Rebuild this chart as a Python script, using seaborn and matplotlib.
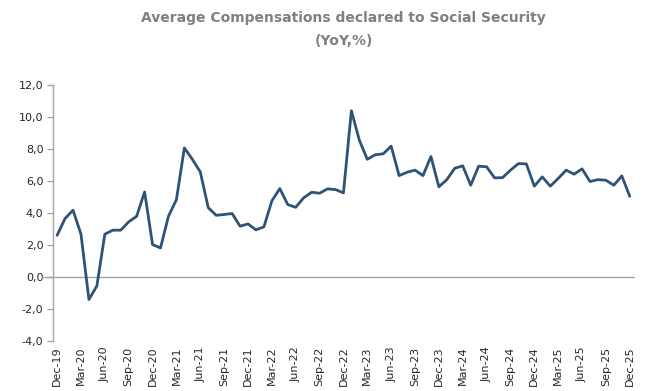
import matplotlib
matplotlib.use("Agg")
import matplotlib.pyplot as plt
import seaborn as sns
import pandas as pd
import numpy as np

months = ["Dec", "Jan", "Feb", "Mar", "Apr", "May", "Jun", "Jul", "Aug", "Sep", "Oct", "Nov"]
start_year = 19
n_points = 73

values = [2.60, 3.65, 4.17, 2.67, -1.41, -0.56, 2.67, 2.92, 2.92, 3.44, 3.79, 5.31,
          2.02, 1.81, 3.79, 4.83, 8.06, 7.35, 6.56, 4.33, 3.85, 3.90, 3.96, 3.17,
          3.31, 2.94, 3.13, 4.75, 5.52, 4.52, 4.35, 4.94, 5.29, 5.23, 5.50, 5.46,
          5.25, 10.38, 8.54, 7.35, 7.63, 7.69, 8.17, 6.33, 6.54, 6.67, 6.33, 7.52,
          5.63, 6.08, 6.79, 6.94, 5.73, 6.92, 6.88, 6.19, 6.20, 6.67, 7.08, 7.06,
          5.67, 6.25, 5.67, 6.15, 6.67, 6.42, 6.75, 5.96, 6.08, 6.04, 5.73, 6.31, 5.04]

def label_for(i):
    m = months[i % 12]
    yr = start_year + (i + 11) // 12
    return f"{m}-{yr:02d}"

labels = [label_for(i) for i in range(n_points)]
tick_idx = list(range(0, n_points, 3))
y_ticks = [12, 10, 8, 6, 4, 2, 0, -2, -4]

df = pd.DataFrame({"idx": range(n_points), "value": values, "label": labels})

sns.set_style("white")
plt.rcParams["font.family"] = ["DejaVu Sans"]

fig = plt.figure(figsize=(6.48, 3.91), dpi=100)
ax = fig.add_axes([0.082, 0.128, 0.896, 0.655])

ax.axhline(0, color="#A6A6A6", lw=1.0, zorder=1, xmin=-0.02, clip_on=False)
sns.lineplot(data=df, x="idx", y="value", ax=ax, color="#2F5376", lw=2.0, zorder=3)

ax.set_xlim(-0.5, n_points - 0.5)
ax.set_ylim(-4, 12)
ax.set_yticks(y_ticks)
ax.set_yticklabels([f"{v:.1f}".replace(".", ",") for v in y_ticks], fontsize=8, color="#262626")
ax.set_xticks(tick_idx)
ax.set_xticklabels([labels[i] for i in tick_idx], rotation=90, fontsize=8, color="#262626")
ax.tick_params(axis="x", length=0, pad=4)
ax.tick_params(axis="y", length=4, width=1, color="#A6A6A6", direction="out", left=True, pad=3)
ax.set_xlabel("")
ax.set_ylabel("")

for s in ["top", "right", "bottom"]:
    ax.spines[s].set_visible(False)
ax.spines["left"].set_color("#A6A6A6")
ax.spines["left"].set_linewidth(1.0)

fig.text(0.53, 0.955, "Average Compensations declared to Social Security", ha="center", va="center",
         fontsize=10, fontweight="bold", color="#808080")
fig.text(0.53, 0.895, "(YoY,%)", ha="center", va="center",
         fontsize=10, fontweight="bold", color="#808080")

fig.savefig("out.png", dpi=100)
